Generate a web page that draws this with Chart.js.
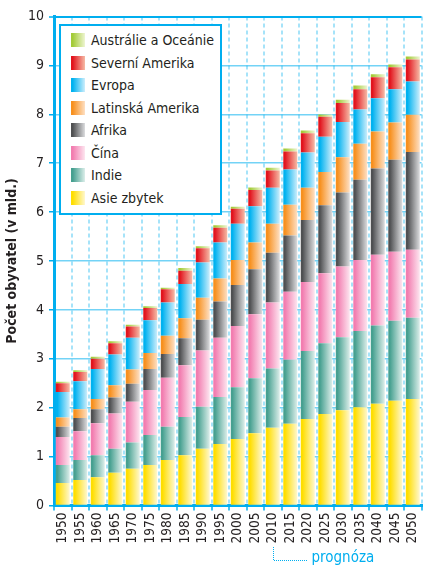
<!DOCTYPE html>
<html lang="cs">
<head>
<meta charset="utf-8">
<script src="https://cdn.jsdelivr.net/npm/chart.js@4/dist/chart.umd.min.js"></script>
<style>
  html, body { margin: 0; padding: 0; background: #fff; }
  #wrap { position: relative; width: 431px; height: 565px; }
  #legend {
    position: absolute; left: 59px; top: 24px; width: 159px; height: 187px;
    border: 2px solid #00aeef; background: #fff; box-sizing: content-box;
    font: 14px 'DejaVu Sans Condensed', 'DejaVu Sans', sans-serif; color: #231f20;
  }
  #legend .row { position: absolute; left: 10px; height: 14px; line-height: 14px; white-space: nowrap; }
  #legend .sw { display: inline-block; width: 14px; height: 14px; vertical-align: top; margin-right: 6px; }
</style>
</head>
<body>
<div id="wrap">
  <canvas id="chart"></canvas>
  <div id="legend"></div>
</div>
<script>
const years = ['1950', '1955', '1960', '1965', '1970', '1975', '1980', '1985', '1990', '1995', '2000',
  '2005', '2010', '2015', '2020', '2025', '2030', '2035', '2040', '2045', '2050'];

// miliardy obyvatel
const asieZbytek = [0.46, 0.52, 0.58, 0.67, 0.75, 0.83, 0.93, 1.03, 1.16, 1.26, 1.36, 1.48, 1.59, 1.67, 1.77, 1.87, 1.95, 2.01, 2.08, 2.14, 2.18];
const indie = [0.37, 0.41, 0.45, 0.49, 0.54, 0.61, 0.68, 0.78, 0.86, 0.96, 1.06, 1.12, 1.21, 1.31, 1.39, 1.45, 1.49, 1.56, 1.60, 1.64, 1.66];
const cina = [0.57, 0.59, 0.65, 0.72, 0.83, 0.92, 1.00, 1.06, 1.15, 1.21, 1.25, 1.31, 1.35, 1.39, 1.41, 1.43, 1.45, 1.45, 1.45, 1.41, 1.39];
const afrika = [0.21, 0.27, 0.29, 0.33, 0.37, 0.43, 0.49, 0.55, 0.63, 0.74, 0.84, 0.92, 1.02, 1.15, 1.27, 1.39, 1.51, 1.64, 1.76, 1.88, 2.00];
const latinskaAmerika = [0.19, 0.18, 0.21, 0.25, 0.29, 0.33, 0.37, 0.41, 0.45, 0.47, 0.51, 0.55, 0.59, 0.63, 0.66, 0.68, 0.72, 0.74, 0.76, 0.76, 0.76];
const evropa = [0.52, 0.57, 0.61, 0.63, 0.65, 0.67, 0.68, 0.70, 0.72, 0.74, 0.74, 0.74, 0.74, 0.72, 0.72, 0.72, 0.72, 0.70, 0.68, 0.68, 0.68];
const severniAmerika = [0.18, 0.19, 0.21, 0.23, 0.23, 0.25, 0.27, 0.27, 0.29, 0.30, 0.31, 0.33, 0.35, 0.37, 0.39, 0.41, 0.39, 0.41, 0.43, 0.45, 0.45];
const australie = [0.03, 0.035, 0.04, 0.04, 0.035, 0.035, 0.035, 0.055, 0.04, 0.05, 0.04, 0.055, 0.055, 0.06, 0.06, 0.045, 0.07, 0.08, 0.06, 0.06, 0.06];

const yTicks = [0, 1, 2, 3, 4, 5, 6, 7, 8, 9, 10];
const forecastFrom = '2010';
const forecastLabel = 'prognóza';
const yTitle = 'Počet obyvatel (v mld.)';

const FONT = "'DejaVu Sans Condensed', 'DejaVu Sans', sans-serif";
const BLUE = '#00aeef';
const BAR_PCT = 0.8;

// bottom -> top
const series = [
  { label: 'Asie zbytek', data: asieZbytek, c1: '#ffde00', c2: '#fff8cf' },
  { label: 'Indie', data: indie, c1: '#46a090', c2: '#dceeea' },
  { label: 'Čína', data: cina, c1: '#f27db0', c2: '#fde6f0' },
  { label: 'Afrika', data: afrika, c1: '#4f5052', c2: '#dcdddf' },
  { label: 'Latinská Amerika', data: latinskaAmerika, c1: '#f7901e', c2: '#fee0c4' },
  { label: 'Evropa', data: evropa, c1: '#00b2f0', c2: '#cdeefc' },
  { label: 'Severní Amerika', data: severniAmerika, c1: '#e2141e', c2: '#f6bba6' },
  { label: 'Austrálie a Oceánie', data: australie, c1: '#a3cb38', c2: '#eef5d2' },
];

function fade(c1, c2) {
  return (ctx) => {
    const chart = ctx.chart;
    const x = chart.scales.x;
    if (!chart.chartArea || !x || ctx.dataIndex === undefined) return c1;
    const mid = x.getPixelForValue(ctx.dataIndex);
    const half = (x.width / years.length) * BAR_PCT / 2;
    if (!isFinite(mid) || !isFinite(half)) return c1;
    const g = chart.ctx.createLinearGradient(mid - half, 0, mid + half, 0);
    g.addColorStop(0, c1);
    g.addColorStop(0.12, c1);
    g.addColorStop(1, c2);
    return g;
  };
}

const forecastPlugin = {
  id: 'prognoza',
  afterDraw(chart) {
    const { ctx, scales: { x } } = chart;
    const px = Math.round(x.getPixelForValue(years.indexOf(forecastFrom))) + 0.5;
    const top = x.bottom - 18;
    ctx.save();
    ctx.strokeStyle = BLUE;
    ctx.lineWidth = 1;
    ctx.setLineDash([1, 1]);
    ctx.beginPath();
    ctx.moveTo(px, top);
    ctx.lineTo(px, top + 13.5);
    ctx.lineTo(px + 34, top + 13.5);
    ctx.stroke();
    ctx.fillStyle = BLUE;
    ctx.font = '15px ' + FONT;
    ctx.textBaseline = 'alphabetic';
    ctx.fillText(forecastLabel, px + 38, top + 15);
    ctx.restore();
  },
};

new Chart(document.getElementById('chart'), {
  type: 'bar',
  data: {
    labels: years,
    datasets: series.map((s) => ({
      label: s.label,
      data: s.data,
      backgroundColor: fade(s.c1, s.c2),
      borderWidth: 0,
      barPercentage: BAR_PCT,
      categoryPercentage: 1,
    })),
  },
  options: {
    responsive: true,
    maintainAspectRatio: false,
    animation: false,
    layout: { padding: { top: 16.5, right: 0, bottom: 0, left: 0 } },
    plugins: {
      legend: { display: false },
      tooltip: { enabled: false },
    },
    scales: {
      x: {
        stacked: true,
        afterFit(scale) { scale.height = 59.5; },
        grid: {
          color: 'rgba(0,174,239,0.35)',
          lineWidth: 2,
          tickColor: BLUE,
          tickLength: 5,
          tickWidth: 1.5,
        },
        border: { display: true, color: BLUE, width: 3, dash: [4, 3] },
        ticks: {
          minRotation: 90,
          maxRotation: 90,
          autoSkip: false,
          padding: 2,
          color: '#231f20',
          font: { family: FONT, size: 13.5 },
        },
      },
      y: {
        stacked: true,
        min: 0,
        max: 10,
        afterFit(scale) { scale.width = 54; },
        afterBuildTicks(scale) { scale.ticks = yTicks.map((v) => ({ value: v })); },
        grid: {
          color: (c) => (c.tick && c.tick.value === 10 ? BLUE : 'rgba(0,174,239,0.55)'),
          lineWidth: (c) => (c.tick && c.tick.value === 10 ? 2 : 1.5),
          tickColor: BLUE,
          tickLength: 5,
          tickWidth: 1.5,
        },
        border: { display: true, color: BLUE, width: 3 },
        ticks: {
          padding: 5,
          color: '#231f20',
          font: { family: FONT, size: 14 },
        },
        title: {
          display: true,
          text: yTitle,
          color: '#231f20',
          padding: { top: 4, bottom: 4 },
          font: { family: FONT, size: 14, weight: 'bold' },
        },
      },
    },
  },
  plugins: [forecastPlugin],
});

// legenda v rámečku, pořadí shora dolů
const legendBox = document.getElementById('legend');
series.slice().reverse().forEach((s, i) => {
  const row = document.createElement('div');
  row.className = 'row';
  row.style.top = (7 + i * 22.5) + 'px';
  const sw = document.createElement('span');
  sw.className = 'sw';
  sw.style.background = `linear-gradient(to right, ${s.c1} 0%, ${s.c1} 12%, ${s.c2} 100%)`;
  row.appendChild(sw);
  row.appendChild(document.createTextNode(s.label));
  legendBox.appendChild(row);
});
</script>
</body>
</html>
